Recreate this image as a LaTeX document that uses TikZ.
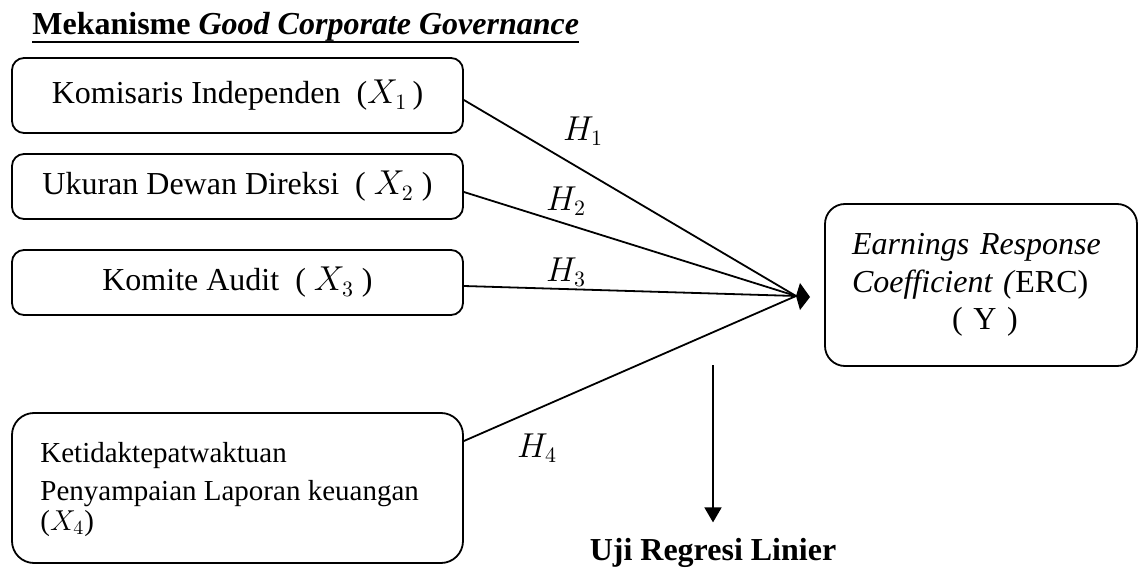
\documentclass[tikz,border=0pt]{standalone}
\usepackage{fontspec}
\setmainfont{Liberation Serif}
\usetikzlibrary{arrows.meta}
\begin{document}
\begin{tikzpicture}[x=0.5pt,y=-0.5pt,
  every node/.style={font=\fontsize{16}{18.75}\selectfont},
  box/.style={draw, line width=0.9pt, rounded corners=6pt, minimum width=225.5pt, inner sep=0pt},
  link/.style={line width=0.9pt},
  hlab/.style={inner sep=0pt}]
\useasboundingbox (0,0) rectangle (1140,572);

% title
\node[anchor=base west, inner sep=0pt] (title) at (32,35) {\textbf{Mekanisme \textit{Good Corporate Governance}}};
\draw[line width=1.2pt] ([yshift=-3.5pt]title.base west) -- ([yshift=-3.5pt]title.base east);

% boxes
\node[box, minimum height=37.5pt] (b1) at (237.5,95.5) {Komisaris Independen\ \ ($X_1$\,)};
\node[box, minimum height=32.5pt] (b2) at (237.5,186.5) {Ukuran Dewan Direksi\ \ ( $X_2$ )};
\node[box, minimum height=32.5pt] (b3) at (237.5,282.5) {Komite Audit\ \ ( $X_3$ )};
\node[box, minimum height=75pt, rounded corners=11pt] (b4) at (237.5,488) {};
\node[anchor=north west, inner sep=0pt, align=left, font=\fontsize{14.5}{18.75}\selectfont] (t4) at (40,442)
  {Ketidaktepatwaktuan\\ Penyampaian Laporan keuangan\\[-3.5pt] ($X_4$)};
\node[box, minimum width=156pt, minimum height=81pt, rounded corners=10pt, text width=129pt, inner xsep=13.5pt, align=left] (yb) at (981,285)
  {\textit{Earnings Response}\\ \textit{Coefficient (}ERC)\\ \hspace*{50pt}( Y )};

% connectors
\coordinate (tip) at (796,296);
\draw[link] ([yshift=-2.25pt]b1.east) -- (tip);
\draw[link] ([yshift=-2.75pt]b2.east) -- (tip);
\draw[link] ([yshift=-1.75pt]b3.east) -- (tip);
\draw[link] ([yshift=23.5pt]b4.east) -- (tip);
\fill (tip) -- ++(4,-13) -- ++(10,14) -- ++(-10,13) -- cycle;

% labels
\node[hlab] (h1) at (583,131) {$H_1$};
\node[hlab] (h2) at (566,201) {$H_2$};
\node[hlab] (h3) at (566,272) {$H_3$};
\node[hlab] (h4) at (537,448) {$H_4$};

% down arrow
\coordinate (dtop) at (713,365);
\node[anchor=base, inner sep=0pt] (uji) at (713,560) {\textbf{Uji Regresi Linier}};
\draw[link, -{Triangle[length=7.5pt,width=8.5pt]}] (dtop) -- ([yshift=7.5pt]uji.north);
\end{tikzpicture}
\end{document}
